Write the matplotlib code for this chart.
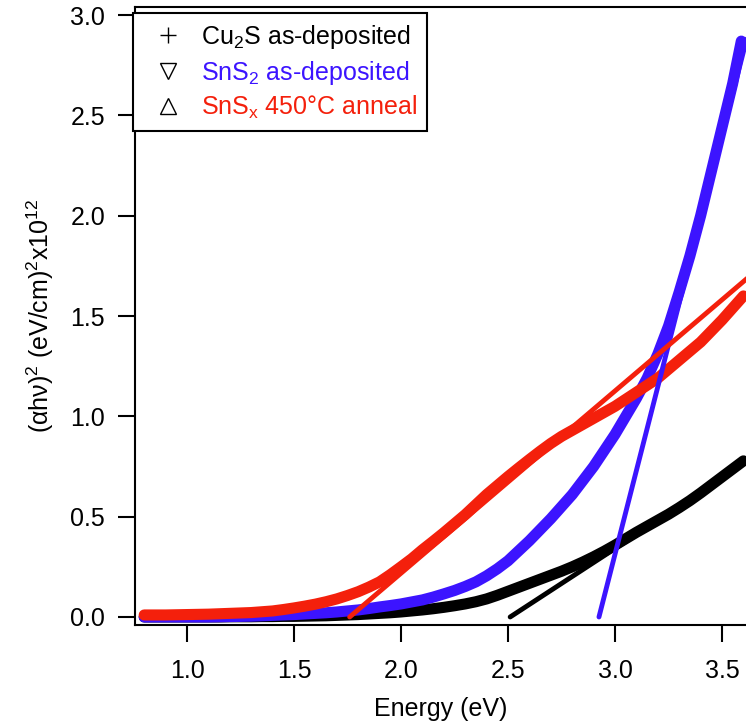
import matplotlib
matplotlib.use("Agg")
import matplotlib.pyplot as plt
from matplotlib.lines import Line2D

plt.rcParams['font.family'] = ['Liberation Sans', 'DejaVu Sans']
plt.rcParams['mathtext.fontset'] = 'custom'
plt.rcParams['mathtext.rm'] = 'Liberation Sans'
plt.rcParams['mathtext.it'] = 'Liberation Sans'

# ---- data ----
energy = [0.80, 0.85, 0.90, 0.95, 1.00, 1.05, 1.10, 1.15, 1.20, 1.25, 1.30, 1.35,
          1.40, 1.45, 1.50, 1.55, 1.60, 1.65, 1.70, 1.75, 1.80, 1.85, 1.90, 1.95,
          2.00, 2.05, 2.10, 2.15, 2.20, 2.25, 2.30, 2.35, 2.40, 2.45, 2.50, 2.55,
          2.60, 2.65, 2.70, 2.75, 2.80, 2.85, 2.90, 2.95, 3.00, 3.05, 3.10, 3.15,
          3.20, 3.25, 3.30, 3.35, 3.40, 3.45, 3.50, 3.55, 3.60]

cu2s = [0.0, 0.0, 0.0, 0.0, 0.0, 0.0, 0.0, 0.0, 0.001, 0.001, 0.001, 0.002,
        0.002, 0.003, 0.003, 0.004, 0.005, 0.006, 0.008, 0.010, 0.012, 0.015, 0.018, 0.021,
        0.025, 0.030, 0.035, 0.041, 0.048, 0.056, 0.065, 0.076, 0.090, 0.108, 0.128, 0.148,
        0.168, 0.188, 0.208, 0.228, 0.250, 0.274, 0.300, 0.328, 0.358, 0.390, 0.422, 0.452,
        0.482, 0.512, 0.545, 0.580, 0.618, 0.658, 0.698, 0.738, 0.778]

sns2 = [0.0, 0.0, 0.0, 0.0, 0.0, 0.0, 0.0, 0.001, 0.002, 0.003, 0.004, 0.006,
        0.008, 0.010, 0.012, 0.015, 0.018, 0.021, 0.025, 0.030, 0.035, 0.042, 0.050, 0.057,
        0.065, 0.075, 0.085, 0.099, 0.115, 0.132, 0.152, 0.175, 0.205, 0.24, 0.28, 0.33,
        0.38, 0.435, 0.49, 0.55, 0.61, 0.68, 0.75, 0.83, 0.91, 1.00, 1.09, 1.19,
        1.31, 1.45, 1.62, 1.80, 2.00, 2.22, 2.44, 2.66, 2.87]

snsx = [0.010, 0.010, 0.010, 0.011, 0.012, 0.013, 0.014, 0.016, 0.018, 0.020, 0.022, 0.026,
        0.030, 0.037, 0.045, 0.054, 0.064, 0.076, 0.090, 0.107, 0.126, 0.149, 0.175, 0.211,
        0.25, 0.29, 0.335, 0.377, 0.42, 0.465, 0.51, 0.56, 0.61, 0.655, 0.70, 0.743,
        0.785, 0.826, 0.865, 0.90, 0.93, 0.96, 0.99, 1.02, 1.05, 1.085, 1.12, 1.155,
        1.19, 1.235, 1.28, 1.325, 1.37, 1.425, 1.48, 1.54, 1.60]

# linear band-gap fits (x-intercept to end)
cu2s_fit_E = [2.51, 3.20]
cu2s_fit_Y = [0.0, 0.48]
sns2_fit_E = [2.925, 3.615]
sns2_fit_Y = [0.0, 2.88]
snsx_fit_E = [1.76, 3.62]
snsx_fit_Y = [0.0, 1.69]

labels = ['Cu$_2$S as-deposited', 'SnS$_2$ as-deposited', 'SnS$_\\mathrm{x}$ 450°C anneal']
xticks = [1.0, 1.5, 2.0, 2.5, 3.0, 3.5]
yticks = [0.0, 0.5, 1.0, 1.5, 2.0, 2.5, 3.0]

BLACK = '#000000'
BLUE = '#3c14ff'
RED = '#f4200c'
FS = 18

fig = plt.figure(figsize=(7.46, 7.24), dpi=100)
ax = fig.add_axes([135/746, 1 - 625/724, 611/746, 618/724])

# blue series ends slightly before the right edge
sns2_energy = energy[:-1] + [3.59]
ax.plot(energy, cu2s, color=BLACK, lw=8, solid_capstyle='round', zorder=2)
ax.plot(sns2_energy, sns2, color=BLUE, lw=8, solid_capstyle='round', zorder=3)
ax.plot(energy, snsx, color=RED, lw=8, solid_capstyle='round', zorder=4)

ax.plot(cu2s_fit_E, cu2s_fit_Y, color=BLACK, lw=3.5, solid_capstyle='round', zorder=5)
ax.plot(sns2_fit_E, sns2_fit_Y, color=BLUE, lw=3.5, solid_capstyle='round', zorder=5)
ax.plot(snsx_fit_E, snsx_fit_Y, color=RED, lw=3.5, solid_capstyle='round', zorder=5)

ax.set_xlim(0.757, 3.612)
ax.set_ylim(-0.04, 3.04)
ax.set_xticks(xticks)
ax.set_xticklabels([f'{v:.1f}' for v in xticks])
ax.set_yticks(yticks)
ax.set_yticklabels([f'{v:.1f}' for v in yticks])
ax.tick_params(direction='out', length=12.5, width=1.5, labelsize=FS)
ax.tick_params(axis='x', pad=12)
ax.tick_params(axis='y', pad=9)
for s in ['left', 'bottom', 'top']:
    ax.spines[s].set_linewidth(1.5)
ax.spines['right'].set_visible(False)

ax.set_xlabel('Energy (eV)', fontsize=FS, labelpad=10)
ax.set_ylabel('(αhν)$^2$ (eV/cm)$^2$x10$^{12}$', fontsize=FS, labelpad=10)

handles = [Line2D([], [], color='black', marker='+', ls='none', markersize=12, mew=1),
           Line2D([], [], color='black', marker='v', ls='none', markersize=11, mfc='none', mew=1),
           Line2D([], [], color='black', marker='^', ls='none', markersize=11, mfc='none', mew=1)]
leg = ax.legend(handles, labels, loc='upper left', bbox_to_anchor=(-0.004, 0.990),
                fontsize=FS, frameon=True, fancybox=False, edgecolor='black',
                framealpha=1, borderpad=0.4, labelspacing=0.3, handletextpad=0.35,
                handlelength=2.0, borderaxespad=0)
leg.get_frame().set_linewidth(1.5)
for t, c in zip(leg.get_texts(), [BLACK, BLUE, RED]):
    t.set_color(c)

fig.savefig('out.png', dpi=100)
